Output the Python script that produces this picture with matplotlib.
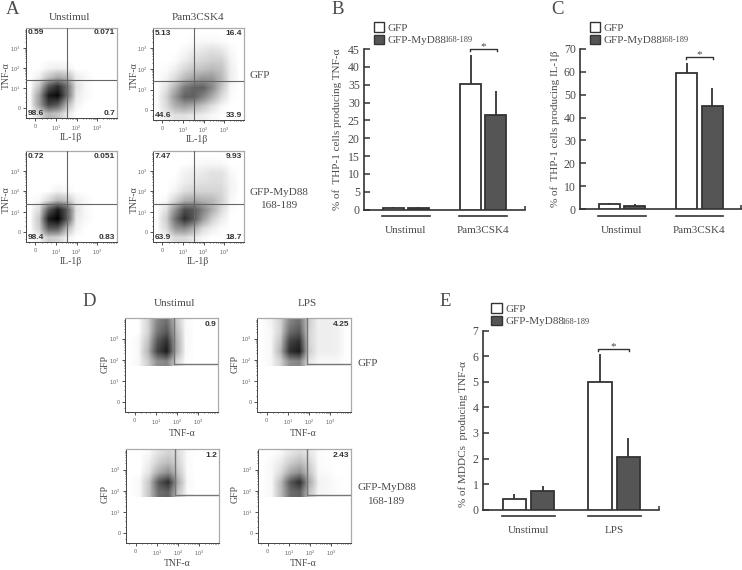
import numpy as np
import matplotlib
matplotlib.use("Agg")
import matplotlib.pyplot as plt
from matplotlib.patches import Patch
from matplotlib.colors import PowerNorm

plt.rcParams['font.family'] = ['Liberation Serif', 'DejaVu Serif']
W, H = 742, 570

# ---------- bar data ----------
groups_b = ['Unstimul', 'Pam3CSK4']
groups_e = ['Unstimul', 'LPS']
b_gfp = [0.5, 35.2]
b_myd = [0.4, 26.4]
b_gfp_err = [0.3, 8.0]
b_myd_err = [0.3, 6.8]
c_gfp = [2.4, 59.5]
c_myd = [1.6, 45.2]
c_gfp_err = [0.4, 4.2]
c_myd_err = [0.6, 7.8]
e_gfp = [0.4, 5.0]
e_myd = [0.75, 2.08]
e_gfp_err = [0.22, 1.07]
e_myd_err = [0.17, 0.73]

# ---------- flow plots: cell density read by eye (rows top to bottom) ----------
a_unstim_gfp = [
 [0]*10, [0]*10, [0]*10, [0]*10,
 [0,0,.2,.3,.2,0,0,0,0,0],
 [0,.3,1.5,2.5,2,.3,.1,0,0,0],
 [0,1.5,6,8,5,.6,.1,0,0,0],
 [.1,3,9,10,5,.4,.1,0,0,0],
 [.1,3,7,6,2,.2,0,0,0,0],
 [0,.8,2,1.5,.4,0,0,0,0,0]]
a_pam_gfp = [
 [0]*10,
 [0,0,0,0,.05,.1,.1,.05,0,0],
 [0,0,0,.1,.3,.5,.7,.5,.1,0],
 [0,0,.05,.3,.7,.9,1.1,1.1,.2,0],
 [0,.05,.3,.9,1.4,1.6,1.9,1.6,.3,0],
 [0,.2,.8,1.9,2.7,3.3,3.2,2,.3,0],
 [0,.6,2.2,4.5,5.5,5.5,3.8,1.5,.1,0],
 [.05,1,3.3,5.5,5.5,4,2.3,.8,.05,0],
 [.05,.8,2.2,2.8,2.2,1.4,.6,.1,0,0],
 [0,.3,.6,.6,.4,.3,.1,0,0,0]]
a_unstim_myd = [
 [0]*10, [0]*10, [0]*10, [0]*10,
 [0,0,0,.2,.1,0,0,0,0,0],
 [0,.1,.8,2,1.5,.3,.1,0,0,0],
 [0,.8,6,9,6,.6,.1,0,0,0],
 [0,1.5,9,10.5,6,.4,.1,0,0,0],
 [0,1.2,6,6,2,.2,0,0,0,0],
 [0,.2,1.2,1,.2,0,0,0,0,0]]
a_pam_myd = [
 [0]*10,
 [0,0,0,0,.05,.1,.1,.1,0,0],
 [0,0,0,.2,.3,.4,.6,.6,.1,0],
 [0,0,.05,.3,.5,.6,.7,.7,.2,0],
 [0,0,.2,.7,1,1,1,.9,.2,0],
 [0,.1,1,2.2,2.5,2.2,1.9,1.1,.1,0],
 [0,.7,3.5,6.5,6,4,2.3,.8,.05,0],
 [.05,1.2,5,8,6,3,1.1,.3,0,0],
 [.05,.8,3.3,3.8,2.3,.8,.3,.05,0,0],
 [0,.2,.8,.8,.4,.1,0,0,0,0]]
# gated plots: grids cover only the region above the GFP cut-off
d_unstim_gfp = [
 [0,0,1,4,5,1.5,.1,0,0,0],
 [0,0,1,4.5,6,2,.1,0,0,0],
 [0,.1,1.5,6,8,2.5,.1,0,0,0],
 [0,.1,2,7,9,2.5,.1,0,0,0],
 [0,.1,1.2,3.5,4,1,.05,0,0,0]]
d_lps_gfp = [
 [0,.2,1,4,5,1.2,.25,.3,.2,0],
 [0,.1,1,5,6,1,.3,.3,.25,0],
 [0,.1,1.5,7,8,1,.3,.3,.25,0],
 [0,.1,2,8,9,1.2,.3,.3,.25,0],
 [0,.1,1,3.5,4,.5,.1,.1,.1,0]]
d_unstim_myd = [
 [0,0,.1,.6,1,.8,.05,0,0,0],
 [0,0,.3,1.2,1.8,1,.05,0,0,0],
 [0,0,.6,2.4,3.5,1.5,.05,0,0,0],
 [0,.1,1.5,6,8,2.5,.1,0,0,0],
 [0,.1,1.5,5,5.5,1.5,.05,0,0,0]]
d_lps_myd = [
 [0,0,.1,.5,.8,.5,.05,0,0,0],
 [0,.1,.4,1.2,1.8,1,.05,.03,0,0],
 [0,.1,.8,2.5,3.5,1.5,.1,.05,0,0],
 [0,.1,1.8,6,8,2.5,.2,.15,.03,0],
 [0,.1,1.8,5,5.5,1.5,.15,.1,.03,0]]

a_quads = [['0.59', '0.071', '98.6', '0.7'], ['5.13', '16.4', '44.6', '33.9'],
           ['0.72', '0.051', '98.4', '0.83'], ['7.47', '9.93', '63.9', '18.7']]
d_pcts = ['0.9', '4.25', '1.2', '2.43']

TXT = '#4a4a4a'
fig = plt.figure(figsize=(W / 100, H / 100), dpi=100)


def fx(x):
    return x / W


def fy(y):
    return 1 - y / H


def axpx(l, t, r, b):
    return fig.add_axes([fx(l), fy(b), (r - l) / W, (b - t) / H])


def label(x, y, s, size=8, **kw):
    kw.setdefault('ha', 'center')
    kw.setdefault('va', 'center')
    kw.setdefault('color', TXT)
    fig.text(fx(x), fy(y), s, fontsize=size, **kw)


def flow(box, grid, gate_x, gate_y, quadrant):
    ax = axpx(*box)
    xl, yl = (-0.46, 3.97), (-0.47, 3.98)
    img_bottom = yl[0] if quadrant else gate_y - 0.12
    ax.imshow(np.array(grid, float), extent=[xl[0], xl[1], img_bottom, yl[1]], aspect='auto',
              cmap='gray_r', norm=PowerNorm(0.75, vmin=0, vmax=10.5), interpolation='bilinear',
              zorder=1)
    ax.set_xlim(*xl)
    ax.set_ylim(*yl)
    tk = [0, 1, 2, 3]
    tl = ['0', r'$\mathregular{10^{1}}$', r'$\mathregular{10^{2}}$', r'$\mathregular{10^{3}}$']
    minor = [d + np.log10(m) for d in (1, 2, 3) for m in range(2, 10)
             if d + np.log10(m) < 3.95] + [0.3, 0.55, 0.75, -0.3]
    for setter in (ax.set_xticks, ax.set_yticks):
        setter(tk)
        setter(minor, minor=True)
    ax.set_xticklabels(tl, family=['Liberation Sans'])
    ax.set_yticklabels(tl, family=['Liberation Sans'])
    ax.tick_params(which='major', length=2, width=0.6, labelsize=4, colors='#333333',
                   labelcolor='#666666', pad=2)
    ax.tick_params(which='minor', length=1, width=0.5, colors='#333333')
    for s in ('top', 'right'):
        ax.spines[s].set_color('#aaaaaa')
        ax.spines[s].set_linewidth(0.9)
    for s in ('left', 'bottom'):
        ax.spines[s].set_color('#444444')
        ax.spines[s].set_linewidth(0.7)
    if quadrant:
        ax.axvline(gate_x, color='#666666', lw=0.8, zorder=3)
        ax.axhline(gate_y, color='#666666', lw=0.8, zorder=3)
    else:
        ax.plot([gate_x, gate_x, 3.97], [3.98, gate_y, gate_y], color='#777777', lw=1.0, zorder=3)
    return ax


# ---------- panel A ----------
a_boxes = [(26, 28, 117, 118), (153, 28, 244, 120), (26, 151, 117, 242), (153, 151, 244, 242)]
a_grids = [a_unstim_gfp, a_pam_gfp, a_unstim_myd, a_pam_myd]
a_gates = [(1.56, 1.43), (1.55, 1.41), (1.56, 1.40), (1.55, 1.40)]
for box, g, gt, q in zip(a_boxes, a_grids, a_gates, a_quads):
    ax = flow(box, g, gt[0], gt[1], True)
    kw = dict(transform=ax.transAxes, fontsize=6, fontweight='bold', family=['Liberation Sans'],
              color='#333333', zorder=4)
    ax.text(0.02, 0.945, q[0], ha='left', va='center', **kw)
    ax.text(0.98, 0.945, q[1], ha='right', va='center', **kw)
    ax.text(0.02, 0.05, q[2], ha='left', va='center', **kw)
    ax.text(0.98, 0.05, q[3], ha='right', va='center', **kw)

label(13, 9, 'A', size=13.5)
label(70, 17, 'Unstimul')
label(198, 17, 'Pam3CSK4')
label(249, 75, 'GFP', ha='left')
label(249, 193, 'GFP-MyD88', ha='left')
label(280, 206, '168-189')
for x, y in ((70.5, 137.5), (196.7, 139), (71, 262), (198, 262)):
    label(x, y, 'IL-1β', size=7)
for x, y in ((6.5, 76), (134, 76), (6.5, 200), (134, 200)):
    label(x, y, 'TNF-α', size=7, rotation=90)

# ---------- panel D ----------
d_boxes = [(125, 318, 218, 412), (257, 318, 351, 412), (126, 449, 219, 543), (258, 449, 351, 543)]
d_grids = [d_unstim_gfp, d_lps_gfp, d_unstim_myd, d_lps_myd]
d_gates = [(1.89, 1.81), (1.89, 1.81), (1.87, 1.82), (1.89, 1.82)]
for box, g, gt, p in zip(d_boxes, d_grids, d_gates, d_pcts):
    ax = flow(box, g, gt[0], gt[1], False)
    ax.text(0.98, 0.935, p, transform=ax.transAxes, ha='right', va='center', fontsize=6,
            fontweight='bold', family=['Liberation Sans'], color='#333333', zorder=4)

label(89, 301, 'D', size=13.5)
label(175, 304, 'Unstimul')
label(307.5, 304, 'LPS')
label(357, 364, 'GFP', ha='left')
label(357, 488, 'GFP-MyD88', ha='left')
label(387, 501, '168-189')
for x, y in ((182, 433), (303, 433), (177, 563), (303, 563)):
    label(x, y, 'TNF-α', size=7)
for x, y in ((105.5, 364), (235.5, 364), (105.5, 494), (235.5, 494)):
    label(x, y, 'GFP', size=7, rotation=90)


# ---------- bar panels ----------
def bars(box, centres, bw, off, groups, gfp, myd, ge, me, ymax, ystep, ylabel, ylab_x, ylab_c,
         brk, line_half, leg_xy, letter):
    ax = axpx(*box)
    c = np.array(centres, float)
    ec = '#333333'
    ax.bar(c - off, gfp, bw, color='white', edgecolor=ec, lw=1.3, zorder=3)
    ax.bar(c + off, myd, bw, color='#555555', edgecolor=ec, lw=1.3, zorder=3)
    for xs, v, e in ((c - off, gfp, ge), (c + off, myd, me)):
        ax.errorbar(xs, v, yerr=[[0] * len(v), e], fmt='none', ecolor=ec, elinewidth=1.3,
                    capsize=0, zorder=2)
    ax.set_xlim(0, box[2] - box[0])
    ax.set_ylim(0, ymax)
    ax.set_yticks(np.arange(0, ymax + 1, ystep))
    ax.set_xticks(c)
    ax.set_xticklabels(groups)
    ax.set_xticks([box[2] - box[0] - 0.5], minor=True)
    ax.tick_params(axis='x', which='major', length=0, pad=12, labelsize=8, labelcolor=TXT)
    ax.tick_params(axis='x', which='minor', direction='in', length=3, width=1.1, color=ec)
    ax.tick_params(axis='y', direction='in', length=4, width=1.1, color=ec, labelsize=8.5,
                   labelcolor=TXT, pad=3)
    for s in ('top', 'right'):
        ax.spines[s].set_visible(False)
    for s in ('left', 'bottom'):
        ax.spines[s].set_linewidth(1.2)
        ax.spines[s].set_color(ec)
    tr = ax.get_xaxis_transform()
    hgt = box[3] - box[1]
    for x0 in c:
        ax.plot([x0 - line_half, x0 + line_half], [-6.5 / hgt] * 2, color=ec, lw=1.2,
                transform=tr, clip_on=False)
    # significance bracket
    bl, br, by = brk
    ax.plot([bl, bl, br, br], [by - ymax * 0.012, by, by, by - ymax * 0.012], color=ec, lw=1.0,
            clip_on=False, zorder=4)
    ax.text((bl + br) / 2, by - ymax * 0.012, '*', ha='center', va='bottom', fontsize=8, color=TXT,
            clip_on=False)
    # legend
    lx, ly = leg_xy
    h = [Patch(facecolor='white', edgecolor=ec, lw=1.0), Patch(facecolor='#555555', edgecolor=ec, lw=1.0)]
    ax.legend(h, ['GFP', 'GFP-MyD88'], loc='upper left', bbox_to_anchor=(fx(lx), fy(ly)),
              bbox_transform=fig.transFigure, frameon=False, borderpad=0, borderaxespad=0,
              handlelength=0.95, handleheight=0.95, handletextpad=0.32, labelspacing=0.2,
              prop={'size': 8}, labelcolor=TXT)
    label(lx + 70.5, ly + 18.5, '168-189', size=6, ha='left')
    label(ylab_x, ylab_c, ylabel, size=8, rotation=90)
    label(letter[1], letter[2], letter[0], size=13.5)
    return ax


bars((364, 49, 525, 209.7), [41.8, 119.3], 21, 12.6, groups_b, b_gfp, b_myd, b_gfp_err, b_myd_err,
     45, 5, '% of  THP-1 cells producing TNF-α', 337, 129, (105.5, 133, 44.9), 24, (373.5, 22), ('B', 338, 9))
bars((580, 48.7, 741.7, 209.3), [42, 119.5], 21, 12.7, groups_b, c_gfp, c_myd, c_gfp_err, c_myd_err,
     70, 10, '% of  THP-1 cells producing IL-1β', 555, 129, (106, 133, 66.4), 24, (589.5, 22), ('C', 557, 9))
bars((482.7, 330.7, 659, 509.7), [45.8, 131.5], 23.3, 14.2, groups_e, e_gfp, e_myd, e_gfp_err, e_myd_err,
     7, 1, '% of MDDCs  producing TNF-α', 463, 434, (115.6, 146.3, 6.28), 26.5, (491, 303), ('E', 445, 301))

fig.savefig('out.png', dpi=100, facecolor='white')
